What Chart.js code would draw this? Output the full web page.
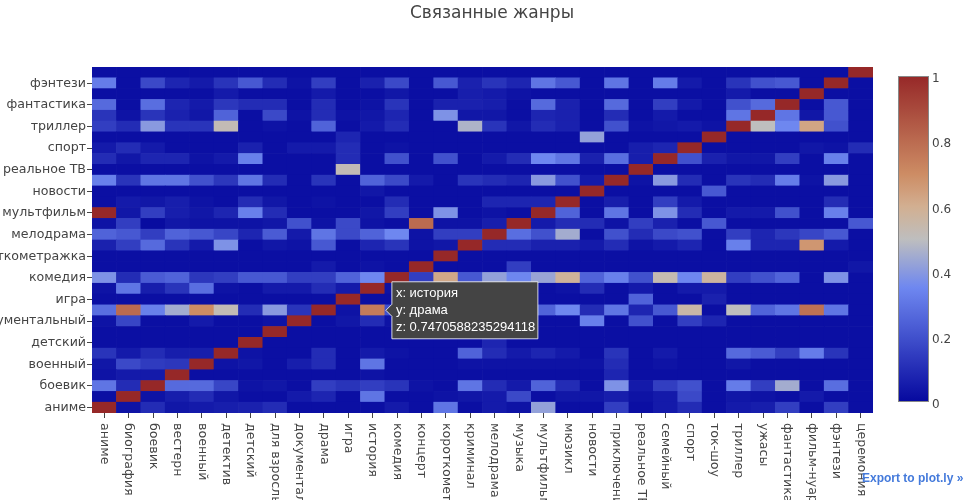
<!DOCTYPE html>
<html>
<head>
<meta charset="utf-8">
<script src="https://cdn.jsdelivr.net/npm/chart.js@4.4.0/dist/chart.umd.min.js"></script>
<style>
  body { margin: 0; background: #fff; }
  #wrap { position: relative; width: 968px; height: 500px; }
  #export { position: absolute; left: 862px; top: 471px; font: bold 12px "Liberation Sans", Arial, sans-serif; color: #447adb; }
</style>
</head>
<body>
<div id="wrap">
  <canvas id="c" width="968" height="500"></canvas>
  <div id="export">Export to plot.ly »</div>
</div>
<script>
// genres, bottom to top on y and left to right on x
const genres = ["аниме", "биография", "боевик", "вестерн", "военный", "детектив", "детский", "для взрослых",
  "документальный", "драма", "игра", "история", "комедия", "концерт", "короткометражка", "криминал",
  "мелодрама", "музыка", "мультфильм", "мюзикл", "новости", "приключения", "реальное ТВ", "семейный",
  "спорт", "ток-шоу", "триллер", "ужасы", "фантастика", "фильм-нуар", "фэнтези", "церемония"];

// every other genre gets a y label
const yTickIdx = [0, 2, 4, 6, 8, 10, 12, 14, 16, 18, 20, 22, 24, 26, 28, 30];

// z[row] = values for y = genres[row], x = each genre
const z = [
  [1, .03, .1, .04, .05, .06, .07, .1, .02, .02, .02, .02, .05, .02, .3, .02, .05, .03, .42, .02, .02, .15, .02, .05, .1, .02, .05, .06, .15, .02, .15, .02],
  [.02, 1, .03, .06, .1, .04, .02, .02, .05, .08, .02, .3, .02, .02, .03, .04, .05, .18, .02, .04, .04, .06, .03, .05, .18, .02, .04, .03, .02, .05, .02, .02],
  [.3, .1, 1, .27, .27, .17, .03, .04, .02, .15, .12, .15, .12, .03, .02, .3, .1, .05, .25, .1, .02, .38, .05, .15, .2, .02, .32, .15, .45, .02, .28, .02],
  [.03, .05, .05, 1, .02, .02, .02, .02, .02, .02, .02, .03, .02, .02, .02, .02, .02, .02, .02, .02, .02, .08, .02, .02, .02, .02, .02, .02, .02, .02, .02, .02],
  [.04, .18, .14, .13, 1, .03, .04, .02, .06, .1, .02, .3, .02, .02, .02, .03, .03, .03, .03, .03, .03, .1, .02, .03, .02, .02, .04, .02, .02, .02, .02, .02],
  [.12, .05, .1, .06, .06, 1, .03, .02, .02, .1, .02, .05, .03, .02, .02, .25, .1, .05, .08, .05, .02, .12, .02, .05, .02, .02, .27, .23, .15, .32, .12, .02],
  [.02, .02, .02, .02, .02, .02, 1, .02, .02, .02, .02, .02, .02, .02, .02, .02, .08, .02, .02, .02, .02, .02, .02, .02, .02, .02, .02, .02, .02, .02, .02, .02],
  [.02, .02, .02, .02, .02, .02, .02, 1, .02, .02, .02, .02, .02, .02, .02, .02, .02, .02, .02, .02, .02, .02, .02, .02, .02, .02, .02, .02, .02, .02, .02, .02],
  [.03, .17, .02, .02, .05, .02, .02, .03, 1, .02, .04, .1, .03, .02, .02, .02, .05, .05, .02, .02, .33, .02, .2, .02, .15, .08, .02, .02, .02, .02, .02, .02],
  [.28, .8, .33, .45, .7, .52, .1, .4, .12, 1, .03, 0.7470588235294118, .2, .03, .1, .3, .3, .1, .25, .35, .1, .3, .08, .22, .55, .02, .5, .25, .3, .78, .3, .02],
  [.02, .02, .02, .02, .02, .02, .02, .02, .02, .02, 1, .02, .02, .02, .02, .02, .02, .02, .02, .02, .02, .02, .25, .02, .02, .07, .02, .02, .02, .02, .02, .02],
  [.03, .3, .06, .12, .28, .03, .02, .05, .05, .1, .05, 1, .03, .02, .02, .02, .02, .02, .02, .03, .1, .02, .05, .02, .05, .05, .02, .02, .02, .02, .02, .02],
  [.38, .1, .23, .25, .13, .15, .22, .22, .15, .15, .25, .35, 1, .15, .62, .22, .42, .35, .43, .58, .25, .33, .2, .53, .35, .57, .15, .2, .25, .02, .38, .02],
  [.02, .02, .02, .02, .02, .02, .02, .02, .02, .05, .02, .03, .02, 1, .02, .02, .02, .15, .02, .02, .02, .02, .02, .02, .02, .02, .02, .02, .02, .02, .02, .04],
  [.02, .02, .02, .02, .02, .02, .02, .02, .02, .02, .02, .02, .02, .02, 1, .02, .02, .02, .02, .02, .02, .02, .02, .02, .02, .02, .02, .02, .02, .02, .02, .02],
  [.07, .15, .27, .12, .05, .38, .02, .04, .03, .22, .02, .08, .12, .03, .04, 1, .1, .1, .07, .07, .05, .1, .03, .05, .08, .02, .33, .08, .08, .67, .05, .02],
  [.25, .22, .15, .25, .22, .17, .08, .23, .05, .3, .18, .25, .35, .03, .15, .15, 1, .28, .2, .45, .02, .2, .1, .18, .2, .02, .15, .08, .13, .17, .22, .02],
  [.03, .15, .01, .04, .03, .03, .03, .04, .2, .03, .18, .03, .02, .8, .03, .03, .06, 1, .05, .1, .1, .03, .15, .07, .02, .22, .02, .02, .02, .02, .02, .22],
  [1, .04, .15, .06, .04, .08, .33, .1, .02, .02, .02, .04, .15, .02, .38, .02, .03, .02, 1, .25, .02, .3, .02, .38, .1, .02, .05, .05, .2, .02, .33, .02],
  [.02, .05, .04, .06, .03, .02, .1, .04, .02, .03, .02, .02, .1, .02, .02, .02, .08, .08, .08, 1, .02, .06, .02, .15, .05, .02, .02, .02, .02, .02, .1, .02],
  [.02, .02, .02, .02, .02, .02, .02, .02, .02, .02, .02, .04, .02, .02, .02, .02, .02, .02, .02, .02, 1, .02, .02, .02, .02, .22, .02, .02, .02, .02, .02, .02],
  [.33, .12, .3, .3, .2, .13, .3, .1, .02, .12, .02, .25, .18, .05, .02, .12, .1, .08, .4, .2, .05, 1, .03, .4, .1, .02, .12, .1, .32, .03, .4, .02],
  [.02, .02, .02, .02, .02, .02, .02, .02, .02, .02, .52, .02, .02, .02, .02, .02, .02, .02, .02, .02, .02, .02, 1, .02, .02, .02, .02, .02, .02, .02, .02, .02],
  [.1, .04, .08, .08, .03, .05, .33, .02, .02, .02, .1, .02, .2, .02, .2, .02, .05, .1, .35, .3, .07, .28, .06, 1, .2, .07, .04, .04, .15, .02, .33, .02],
  [.05, .1, .05, .02, .02, .02, .07, .02, .05, .05, .1, .02, .03, .02, .02, .02, .02, .02, .02, .02, .02, .02, .06, .08, 1, .02, .02, .02, .02, .04, .03, .1],
  [.02, .02, .02, .02, .02, .02, .02, .02, .02, .02, .08, .02, .02, .02, .02, .02, .02, .02, .02, .02, .42, .02, .02, .02, .02, 1, .02, .02, .02, .02, .02, .02],
  [.15, .1, .4, .12, .12, .52, .02, .03, .02, .25, .02, .05, .1, .02, .02, .47, .12, .04, .1, .07, .02, .2, .03, .04, .05, .03, 1, .5, .35, .63, .2, .02],
  [.12, .03, .12, .07, .04, .25, .02, .18, .03, .1, .03, .04, .08, .02, .38, .04, .04, .02, .08, .07, .02, .1, .02, .05, .02, .02, .3, 1, .3, .04, .22, .02],
  [.27, .02, .28, .08, .05, .13, .1, .1, .02, .1, .02, .03, .12, .02, .07, .07, .06, .02, .27, .07, .02, .27, .02, .15, .05, .02, .2, .27, 1, .02, .22, .02],
  [.02, .02, .02, .02, .02, .05, .02, .02, .02, .05, .02, .02, .04, .02, .02, .06, .05, .03, .02, .02, .02, .02, .02, .02, .02, .02, .05, .02, .02, 1, .02, .02],
  [.32, .02, .18, .08, .05, .12, .22, .1, .03, .15, .02, .07, .18, .02, .22, .07, .12, .08, .3, .22, .02, .3, .02, .32, .05, .02, .12, .2, .22, .02, 1, .02],
  [.02, .02, .02, .02, .02, .02, .02, .02, .02, .02, .02, .02, .02, .02, .02, .02, .02, .02, .02, .02, .02, .02, .02, .02, .02, .02, .02, .02, .02, .02, .02, 1]
];

const colorbarTicks = [0, 0.2, 0.4, 0.6, 0.8, 1];
const hoverX = "история";
const hoverY = "драма";
const chartTitle = "Связанные жанры";

// colour scale (plotly RdBu look)
const scaleStops = [0, 0.35, 0.5, 0.6, 0.7, 1];
const scaleColors = [[5, 8, 158], [110, 135, 240], [190, 190, 190], [210, 175, 145], [205, 140, 100], [150, 40, 40]];

function colorFor(v) {
  v = Math.max(0, Math.min(1, v));
  let k = 0;
  while (k < scaleStops.length - 2 && v > scaleStops[k + 1]) k++;
  const t = (v - scaleStops[k]) / (scaleStops[k + 1] - scaleStops[k]);
  const a = scaleColors[k], b = scaleColors[k + 1];
  const c = a.map((ch, i) => Math.round(ch + (b[i] - ch) * t));
  return `rgb(${c[0]},${c[1]},${c[2]})`;
}

const FONT = '"DejaVu Sans", Verdana, sans-serif';

const datasets = genres.map((g, row) => ({
  label: g,
  data: genres.map(() => 1),
  backgroundColor: z[row].map(colorFor),
  borderWidth: 0,
  barPercentage: 1,
  categoryPercentage: 1
}));

// title, rotated x labels, colorbar and the hover box
const extras = {
  id: "extras",
  afterDraw(chart) {
    const { ctx, chartArea: a, scales: { x, y } } = chart;
    ctx.save();

    ctx.fillStyle = "#444";
    ctx.font = "17px " + FONT;
    ctx.textAlign = "center";
    ctx.textBaseline = "middle";
    ctx.fillText(chartTitle, 492, 14);

    ctx.font = "12.6px " + FONT;
    genres.forEach((g, i) => {
      ctx.save();
      ctx.translate(x.getPixelForValue(i), a.bottom + 10);
      ctx.rotate(Math.PI / 2);
      ctx.textAlign = "left";
      ctx.textBaseline = "middle";
      ctx.fillText(g, 0, 0);
      ctx.restore();
    });

    // colorbar
    const cbL = a.right + 25, cbW = 31, cbT = a.top + 9, cbB = a.bottom - 11;
    const grad = ctx.createLinearGradient(0, cbB, 0, cbT);
    for (let k = 0; k <= 40; k++) grad.addColorStop(k / 40, colorFor(k / 40));
    ctx.fillStyle = grad;
    ctx.fillRect(cbL, cbT, cbW, cbB - cbT);
    ctx.strokeStyle = "#888";
    ctx.lineWidth = 1;
    ctx.strokeRect(cbL + 0.5, cbT + 0.5, cbW - 1, cbB - cbT - 1);
    ctx.fillStyle = "#444";
    ctx.font = "12px " + FONT;
    ctx.textAlign = "left";
    ctx.textBaseline = "middle";
    colorbarTicks.forEach(t => {
      ctx.fillText(String(t), cbL + cbW + 3, cbB - t * (cbB - cbT) + 3);
    });

    // hover label
    const col = genres.indexOf(hoverX), row = genres.indexOf(hoverY);
    const cw = x.getPixelForValue(1) - x.getPixelForValue(0);
    const tip = x.getPixelForValue(col) + cw / 2 + 1;
    const cy = y.getPixelForValue(row + 0.5);
    const bl = tip + 6, bw = 146, bh = 57, bt = cy - bh / 2;
    ctx.beginPath();
    ctx.moveTo(bl, bt);
    ctx.lineTo(bl + bw, bt);
    ctx.lineTo(bl + bw, bt + bh);
    ctx.lineTo(bl, bt + bh);
    ctx.lineTo(bl, cy + 6);
    ctx.lineTo(tip, cy);
    ctx.lineTo(bl, cy - 6);
    ctx.closePath();
    ctx.fillStyle = "#444";
    ctx.fill();
    ctx.strokeStyle = "rgba(255,255,255,0.8)";
    ctx.stroke();
    ctx.fillStyle = "#fff";
    ctx.font = '13px "Liberation Sans", Arial, sans-serif';
    ctx.fillText("x: " + hoverX, bl + 4, cy - 17);
    ctx.fillText("y: " + hoverY, bl + 4, cy);
    ctx.fillText("z: " + String(z[row][col]), bl + 4, cy + 17);

    ctx.restore();
  }
};

new Chart(document.getElementById("c"), {
  type: "bar",
  data: { labels: genres, datasets },
  options: {
    responsive: false,
    animation: false,
    layout: { padding: { top: 67, right: 95, left: 0, bottom: 0 } },
    plugins: { legend: { display: false }, tooltip: { enabled: false }, title: { display: false } },
    scales: {
      x: {
        stacked: true,
        grid: { offset: false, drawOnChartArea: false, tickLength: 5, tickColor: "#444" },
        border: { display: false },
        ticks: { display: false },
        afterFit(s) { s.height = 87; }
      },
      y: {
        stacked: true,
        min: 0,
        max: genres.length,
        grid: { drawOnChartArea: false, tickLength: 5, tickColor: "#444" },
        border: { display: false },
        ticks: {
          autoSkip: false,
          padding: 1,
          color: "#444",
          font: { family: FONT, size: 12.6 },
          callback: v => genres[Math.floor(v)]
        },
        afterBuildTicks(s) { s.ticks = yTickIdx.map(i => ({ value: i + 0.5 })); },
        afterFit(s) { s.width = 92; }
      }
    }
  },
  plugins: [extras]
});
</script>
</body>
</html>
